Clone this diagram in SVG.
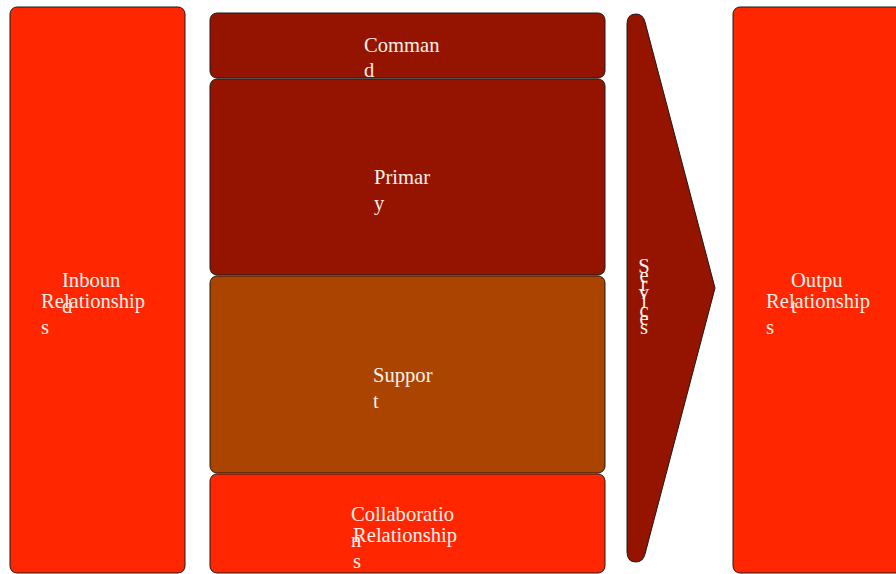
<svg xmlns="http://www.w3.org/2000/svg" width="896" height="574" viewBox="0 0 896 574">
<style>
.box{stroke:#1a1a1a;stroke-width:1}
.red{fill:#FF2600}
.dark{fill:#941400}
.brown{fill:#AA4400}
.t{font-family:"Liberation Serif","Times New Roman",serif;font-size:20.6px;fill:#FFF1EC}
</style>
<rect width="896" height="574" fill="#FFFFFF"/>
<g id="inbound">
<rect class="box red" x="10" y="7" width="175" height="566" rx="7"/>
<text class="t"><tspan x="62" y="287">Inboun</tspan><tspan x="62" y="313">d</tspan></text>
<text class="t"><tspan x="41" y="308">Relationship</tspan><tspan x="41" y="334">s</tspan></text>
</g>
<g id="command">
<rect class="box dark" x="210" y="13" width="395" height="65" rx="7"/>
<text class="t"><tspan x="364" y="52">Comman</tspan><tspan x="364" y="77">d</tspan></text>
</g>
<g id="primary">
<rect class="box dark" x="210" y="79" width="395" height="196" rx="7"/>
<text class="t"><tspan x="374" y="184">Primar</tspan><tspan x="374" y="210">y</tspan></text>
</g>
<g id="support">
<rect class="box brown" x="210" y="276" width="395" height="197" rx="7"/>
<text class="t"><tspan x="373" y="382">Suppor</tspan><tspan x="373" y="408">t</tspan></text>
</g>
<g id="collaboration">
<rect class="box red" x="210" y="474" width="395" height="99" rx="7"/>
<text class="t"><tspan x="351" y="521">Collaboratio</tspan><tspan x="351" y="547">n</tspan></text>
<text class="t"><tspan x="353" y="542">Relationship</tspan><tspan x="353" y="568">s</tspan></text>
</g>
<g id="services">
<path class="box dark" d="M627,24 Q627,14 636,14 Q643,14 645,22 L715,288 L645,554 Q643,562 636,562 Q627,562 627,552 Z"/>
<text class="t" text-anchor="middle" font-size="19"><tspan x="644" y="273">S</tspan><tspan x="644" y="282">e</tspan><tspan x="644" y="291">r</tspan><tspan x="644" y="299">v</tspan><tspan x="644" y="308">i</tspan><tspan x="644" y="317">c</tspan><tspan x="644" y="325">e</tspan><tspan x="644" y="334">s</tspan></text>
</g>
<g id="output">
<rect class="box red" x="733" y="7" width="175" height="566" rx="7"/>
<text class="t"><tspan x="791" y="287">Outpu</tspan><tspan x="791" y="313">t</tspan></text>
<text class="t"><tspan x="766" y="308">Relationship</tspan><tspan x="766" y="334">s</tspan></text>
</g>
<g id="connectors"/>
</svg>
